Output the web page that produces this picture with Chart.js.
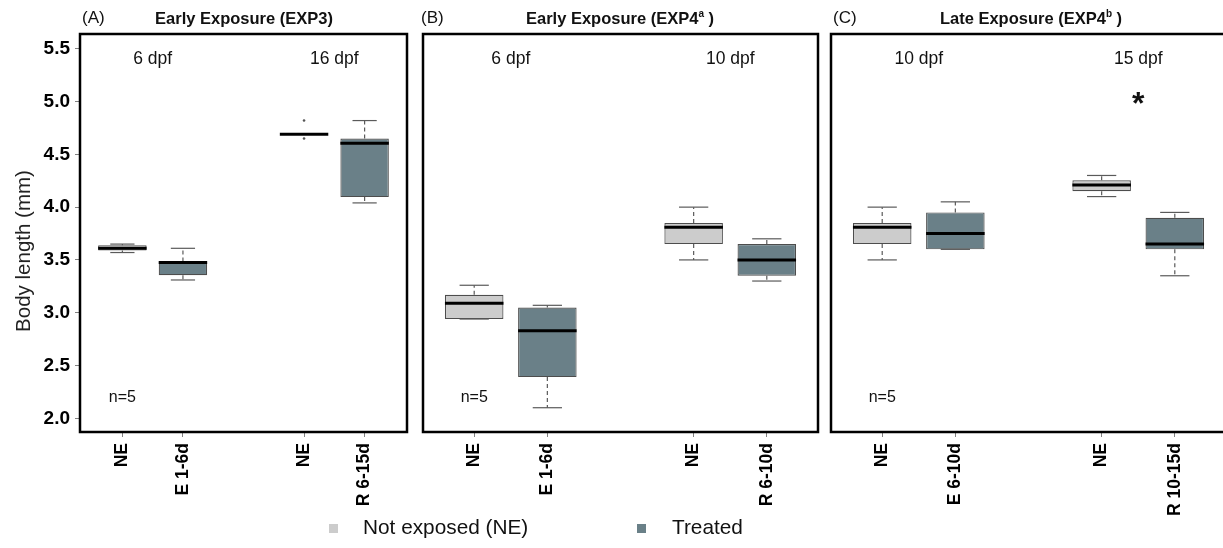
<!DOCTYPE html>
<html>
<head>
<meta charset="utf-8">
<script src="https://cdn.jsdelivr.net/npm/chart.js@4.4.1/dist/chart.umd.min.js"></script>
<style>
  html, body { margin: 0; padding: 0; background: #fff; overflow: hidden; }
  body { width: 1223px; height: 548px; position: relative; font-family: "Liberation Sans", Arial, sans-serif; color: #111; }
  canvas { position: absolute; top: 0; }
  .lab { position: absolute; white-space: nowrap; line-height: 20px; }
  .tag { font-size: 17px; top: 8px; }
  .ttl { font-size: 16.5px; font-weight: bold; top: 8px; width: 400px; text-align: center; }
  .ttl sup { font-size: 10px; vertical-align: 7px; line-height: 0; }
  .ytitle { position: absolute; left: -77px; top: 239px; width: 200px; height: 24px; line-height: 24px;
            text-align: center; font-size: 20.5px; color: #222; transform: rotate(-90deg); white-space: nowrap; }
  .sq { position: absolute; width: 9px; height: 9px; top: 524px; }
  .leg { font-size: 20.8px; line-height: 24px; top: 515px; color: #111; }
</style>
</head>
<body>
<canvas id="cA" width="415" height="548" style="left:0px"></canvas>
<canvas id="cB" width="410" height="548" style="left:415px"></canvas>
<canvas id="cC" width="420" height="548" style="left:825px"></canvas>

<div class="lab tag" style="left:82px">(A)</div>
<div class="lab ttl" style="left:44px">Early Exposure (EXP3)</div>
<div class="lab tag" style="left:421px">(B)</div>
<div class="lab ttl" style="left:420px">Early Exposure (EXP4<sup>a</sup> )</div>
<div class="lab tag" style="left:833px">(C)</div>
<div class="lab ttl" style="left:831px">Late Exposure (EXP4<sup>b</sup> )</div>
<div class="ytitle">Body length (mm)</div>
<div id="legend"></div>

<script>
// positions of the four boxes in every panel, and their labels
const xPos = [1, 2, 4, 5];
const tickLabels = [
  ["NE", "E 1-6d", "NE", "R 6-15d"],
  ["NE", "E 1-6d", "NE", "R 6-10d"],
  ["NE", "E 6-10d", "NE", "R 10-15d"]
];

// box statistics, one row per panel (A, B, C)
const whiskLow = [[3.57, 3.31, 4.69, 4.04], [2.94, 2.10, 3.50, 3.30], [3.50, 3.60, 4.10, 3.35]];
const q1       = [[3.59, 3.355, 4.69, 4.095], [2.94, 2.39, 3.65, 3.35], [3.65, 3.60, 4.15, 3.60]];
const median   = [[3.61, 3.475, 4.69, 4.605], [3.09, 2.83, 3.81, 3.50], [3.81, 3.75, 4.21, 3.65]];
const q3       = [[3.64, 3.485, 4.69, 4.65], [3.17, 3.05, 3.85, 3.65], [3.85, 3.95, 4.255, 3.90]];
const whiskHigh= [[3.65, 3.61, 4.69, 4.82], [3.26, 3.07, 4.00, 3.70], [4.00, 4.05, 4.30, 3.95]];
const outliers = [[{x: 4, y: 4.82}, {x: 4, y: 4.65}], [], []];

const dpfLabels = [["6 dpf", "16 dpf"], ["6 dpf", "10 dpf"], ["10 dpf", "15 dpf"]];
const dpfX = [1.5, 4.5];
const dpfY = 5.4;
const nText = "n=5";
const starMark = {panel: 2, x: 4.5, y: 4.97};

const yTicks = [2.0, 2.5, 3.0, 3.5, 4.0, 4.5, 5.0, 5.5];
const xLim = [0.3, 5.7];
const yLim = [1.87, 5.64];

const seriesNames = ["Not exposed (NE)", "Treated"];
const neColor = "#CCCCCC";
const treatedColor = "#6A8088";

Chart.defaults.font.family = '"Liberation Sans", Arial, sans-serif';

// legend under the panels
const legendSpots = [[329, 363], [637, 672]];
document.getElementById("legend").innerHTML = seriesNames.map((name, k) =>
  '<div class="sq" style="left:' + legendSpots[k][0] + 'px;background:' + [neColor, treatedColor][k] + '"></div>' +
  '<div class="lab leg" style="left:' + legendSpots[k][1] + 'px">' + name + '</div>'
).join("");

const line = (ctx, x1, y1, x2, y2) => {
  ctx.beginPath(); ctx.moveTo(x1, y1); ctx.lineTo(x2, y2); ctx.stroke();
};

// whiskers, caps, medians, texts and the frame
const boxExtras = {
  id: "boxExtras",
  afterDatasetsDraw(chart, args, opts) {
    const p = opts.panel;
    const xs = chart.scales.x, ys = chart.scales.y;
    const ctx = chart.ctx;
    const bw = chart.getDatasetMeta(0).data[0].width;
    ctx.save();
    xPos.forEach((xv, i) => {
      const cx = xs.getPixelForValue(xv);
      const lo = ys.getPixelForValue(whiskLow[p][i]);
      const b1 = ys.getPixelForValue(q1[p][i]);
      const md = ys.getPixelForValue(median[p][i]);
      const b3 = ys.getPixelForValue(q3[p][i]);
      const hi = ys.getPixelForValue(whiskHigh[p][i]);
      ctx.strokeStyle = "#5a5a5a";
      ctx.lineWidth = 1.2;
      ctx.setLineDash([4, 3]);
      if (hi < b3 - 1) line(ctx, cx, b3, cx, hi);
      if (lo > b1 + 1) line(ctx, cx, b1, cx, lo);
      ctx.setLineDash([]);
      line(ctx, cx - bw / 4, hi, cx + bw / 4, hi);
      line(ctx, cx - bw / 4, lo, cx + bw / 4, lo);
      ctx.strokeStyle = "#000";
      ctx.lineWidth = 3;
      line(ctx, cx - bw / 2, md, cx + bw / 2, md);
    });

    ctx.fillStyle = "#111";
    ctx.textAlign = "center";
    ctx.textBaseline = "middle";
    ctx.font = '17.5px "Liberation Sans", Arial, sans-serif';
    dpfLabels[p].forEach((t, k) => ctx.fillText(t, xs.getPixelForValue(dpfX[k]), ys.getPixelForValue(dpfY)));
    ctx.font = '16px "Liberation Sans", Arial, sans-serif';
    ctx.fillText(nText, xs.getPixelForValue(1), ys.getPixelForValue(2.2));
    if (starMark.panel === p) {
      ctx.font = 'bold 32px "Liberation Sans", Arial, sans-serif';
      ctx.fillText("*", xs.getPixelForValue(starMark.x), ys.getPixelForValue(starMark.y));
    }
    ctx.restore();
  },
  afterDraw(chart) {
    const a = chart.chartArea, ctx = chart.ctx;
    ctx.save();
    ctx.strokeStyle = "#000";
    ctx.lineWidth = 2.5;
    ctx.strokeRect(a.left, a.top, a.right - a.left, a.bottom - a.top);
    ctx.restore();
  }
};

const panels = [
  {id: "cA", padL: 0, padR: 8, showY: true},
  {id: "cB", padL: 8, padR: 7, showY: false},
  {id: "cC", padL: 6, padR: 19, showY: false}
];

panels.forEach((pn, p) => {
  const neIdx = [0, 2], trIdx = [1, 3];
  const boxData = idx => idx.map(i => ({x: xPos[i], y: [q1[p][i], q3[p][i]]}));
  const boxStyle = {
    borderColor: "#4d4d4d", borderWidth: 1.2, borderSkipped: false,
    grouped: false, barPercentage: 0.8, categoryPercentage: 1
  };
  new Chart(document.getElementById(pn.id), {
    type: "bar",
    data: {
      datasets: [
        {label: seriesNames[0], data: boxData(neIdx), backgroundColor: neColor, ...boxStyle},
        {label: seriesNames[1], data: boxData(trIdx), backgroundColor: treatedColor, ...boxStyle},
        {type: "scatter", label: "outliers", data: outliers[p], pointRadius: 1.3,
         backgroundColor: "#555", borderColor: "#555", borderWidth: 0}
      ]
    },
    options: {
      responsive: false,
      animation: false,
      layout: {padding: {top: 34, left: pn.padL, right: pn.padR, bottom: 0}},
      plugins: {
        legend: {display: false},
        tooltip: {enabled: false},
        boxExtras: {panel: p}
      },
      scales: {
        x: {
          type: "linear", min: xLim[0], max: xLim[1], offset: false,
          afterBuildTicks: s => { s.ticks = xPos.map(v => ({value: v})); },
          afterFit: s => { s.height = 116; },
          ticks: {
            callback: v => tickLabels[p][xPos.indexOf(v)],
            minRotation: 90, maxRotation: 90, autoSkip: false,
            font: {size: 17.5, weight: "bold"}, color: "#000", padding: 6
          },
          grid: {offset: false, drawOnChartArea: false, tickLength: 5, color: "#808080"},
          border: {display: false}
        },
        y: {
          type: "linear", min: yLim[0], max: yLim[1], display: pn.showY,
          afterBuildTicks: s => { s.ticks = yTicks.map(v => ({value: v})); },
          afterFit: s => { if (pn.showY) s.width = 80; },
          ticks: {
            callback: v => v.toFixed(1),
            font: {size: 19, weight: "bold"}, color: "#000", padding: 5
          },
          grid: {drawOnChartArea: false, tickLength: 5, color: "#808080"},
          border: {display: false}
        }
      }
    },
    plugins: [boxExtras]
  });
});
</script>
</body>
</html>
